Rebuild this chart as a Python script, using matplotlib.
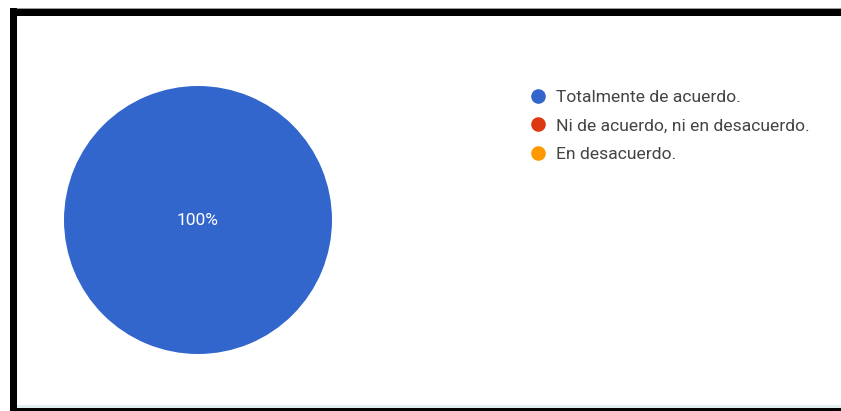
import matplotlib.pyplot as plt
from matplotlib.patches import Rectangle
from matplotlib.lines import Line2D

# respuestas de la encuesta
categorias = ['Totalmente de acuerdo.', 'Ni de acuerdo, ni en desacuerdo.', 'En desacuerdo.']
porcentajes = [100, 0, 0]
colores = ['#3366cc', '#dc3912', '#ff9900']

W, H = 841, 411
fig = plt.figure(figsize=(W / 100, H / 100), dpi=100)
fig.patch.set_facecolor('white')

# marco negro (arriba, izquierda, abajo)
def px_rect(x0, y0, x1, y1, color):
    fig.patches.append(Rectangle((x0 / W, 1 - y1 / H), (x1 - x0) / W, (y1 - y0) / H,
                                 transform=fig.transFigure, color=color, lw=0, zorder=5))

px_rect(10, 8, W, 9, '#9a9a9a')
px_rect(10, 9, W, 16, 'black')
px_rect(10, 8, 17, H, 'black')
px_rect(17, 405, W, 408, '#e3eeee')
px_rect(10, 408, W, H, 'black')

# pastel
cx, cy, r = 198, 220, 134
ax = fig.add_axes([(cx - r) / W, 1 - (cy + r) / H, 2 * r / W, 2 * r / H])
wedges, textos, autotextos = ax.pie(
    porcentajes, colors=colores, startangle=90, counterclock=False,
    autopct=lambda p: '%d%%' % round(p) if p > 0 else '',
    pctdistance=0.0, radius=1.0,
    wedgeprops=dict(linewidth=0),
    textprops=dict(color='white', fontsize=12.5, family='Roboto'))
ax.set_xlim(-1, 1)
ax.set_ylim(-1, 1)
ax.set_aspect('equal')
ax.axis('off')

# leyenda
handles = [Line2D([], [], marker='o', linestyle='none', markersize=9.5,
                  markerfacecolor=c, markeredgecolor=c) for c in colores]
fig.legend(handles, categorias, loc='upper left',
           bbox_to_anchor=(522 / W, 1 - 83 / H), frameon=False,
           prop=dict(family='Roboto', size=12.6), labelcolor='#444444',
           handletextpad=0.55, labelspacing=0.75, handlelength=1.0, borderaxespad=0)

fig.savefig('out.png', dpi=100)
